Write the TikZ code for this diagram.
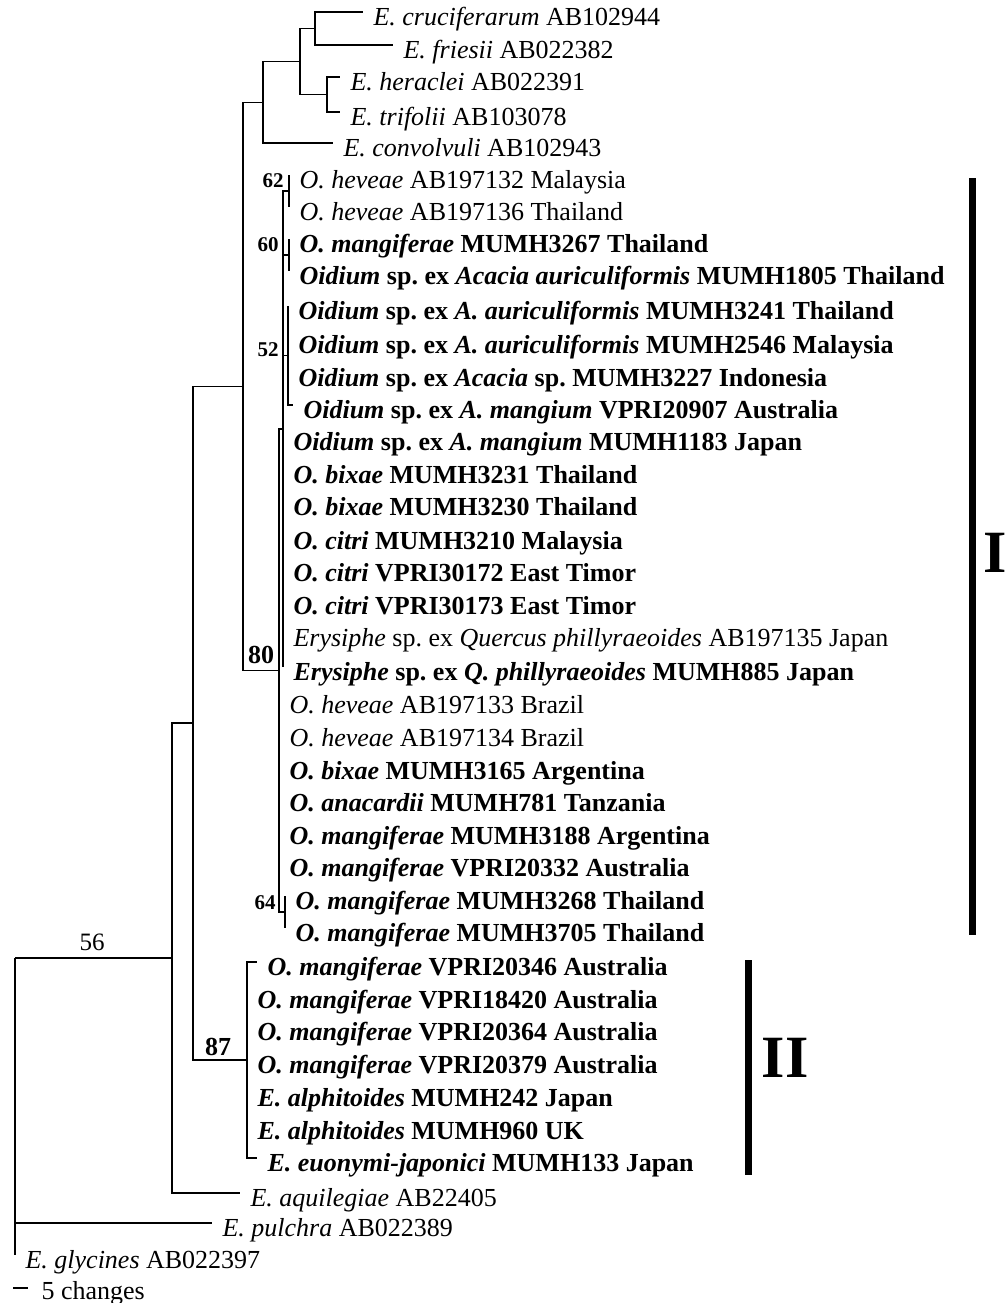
\documentclass[tikz,border=0pt]{standalone}
\usepackage{fontspec}
\setmainfont{Liberation Serif}
\begin{document}
\begin{tikzpicture}[x=1pt,y=-1pt,line width=1.1pt,
  tip/.style={anchor=west,inner xsep=10pt,inner ysep=0pt,text height=27pt,text depth=0pt,font=\fontsize{26}{30}\selectfont},
  tipb/.style={tip,font=\fontsize{26}{30}\selectfont\bfseries},
  boot/.style={inner sep=0pt,font=\fontsize{21}{24}\selectfont\bfseries},
  bigboot/.style={inner sep=0pt,font=\fontsize{26}{28}\selectfont\bfseries},
  clade/.style={inner sep=0pt,font=\fontsize{60}{64}\selectfont\bfseries}]
\useasboundingbox (0,0) rectangle (1008,1303);

\node[tip] (cruc) at (363,12) {\textit{E. cruciferarum} AB102944};
\node[tip] (fri) at (393,45) {\textit{E. friesii} AB022382};
\node[tip] (her) at (340,77) {\textit{E. heraclei} AB022391};
\node[tip] (tri) at (340,112) {\textit{E. trifolii} AB103078};
\node[tip] (conv) at (333,143) {\textit{E. convolvuli} AB102943};

\node[tip] (mal) at (289,175) {\textit{O. heveae} AB197132 Malaysia};
\node[tip] (tha) at (289,207) {\textit{O. heveae} AB197136 Thailand};
\node[tipb] (m3267) at (289,239) {\textit{O. mangiferae} MUMH3267 Thailand};
\node[tipb] (m1805) at (289,271) {\textit{Oidium} sp.\ ex \textit{Acacia auriculiformis} MUMH1805 Thailand};
\node[tipb] (m3241) at (288,306) {\textit{Oidium} sp.\ ex \textit{A. auriculiformis} MUMH3241 Thailand};
\node[tipb] (m2546) at (288,340) {\textit{Oidium} sp.\ ex \textit{A. auriculiformis} MUMH2546 Malaysia};
\node[tipb] (m3227) at (288,373) {\textit{Oidium} sp.\ ex \textit{Acacia} sp.\ MUMH3227 Indonesia};
\node[tipb] (v20907) at (293,405) {\textit{Oidium} sp.\ ex \textit{A. mangium} VPRI20907 Australia};
\node[tipb] (m1183) at (283,437) {\textit{Oidium} sp.\ ex \textit{A. mangium} MUMH1183 Japan};
\node[tipb] (m3231) at (283,470) {\textit{O. bixae} MUMH3231 Thailand};
\node[tipb] (m3230) at (283,502) {\textit{O. bixae} MUMH3230 Thailand};
\node[tipb] (m3210) at (283,536) {\textit{O. citri} MUMH3210 Malaysia};
\node[tipb] (v30172) at (283,568) {\textit{O. citri} VPRI30172 East Timor};
\node[tipb] (v30173) at (283,601) {\textit{O. citri} VPRI30173 East Timor};
\node[tip] (ab135) at (283,633) {\textit{Erysiphe} sp.\ ex \textit{Quercus phillyraeoides} AB197135 Japan};
\node[tipb] (m885) at (283,667) {\textit{Erysiphe} sp.\ ex \textit{Q. phillyraeoides} MUMH885 Japan};
\node[tip] (ab133) at (279,700) {\textit{O. heveae} AB197133 Brazil};
\node[tip] (ab134) at (279,733) {\textit{O. heveae} AB197134 Brazil};
\node[tipb] (m3165) at (279,766) {\textit{O. bixae} MUMH3165 Argentina};
\node[tipb] (m781) at (279,798) {\textit{O. anacardii} MUMH781 Tanzania};
\node[tipb] (m3188) at (279,831) {\textit{O. mangiferae} MUMH3188 Argentina};
\node[tipb] (v20332) at (279,863) {\textit{O. mangiferae} VPRI20332 Australia};
\node[tipb] (m3268) at (285,896) {\textit{O. mangiferae} MUMH3268 Thailand};
\node[tipb] (m3705) at (285,928) {\textit{O. mangiferae} MUMH3705 Thailand};

\node[tipb] (v20346) at (257,962) {\textit{O. mangiferae} VPRI20346 Australia};
\node[tipb] (v18420) at (247,995) {\textit{O. mangiferae} VPRI18420 Australia};
\node[tipb] (v20364) at (247,1027) {\textit{O. mangiferae} VPRI20364 Australia};
\node[tipb] (v20379) at (247,1060) {\textit{O. mangiferae} VPRI20379 Australia};
\node[tipb] (m242) at (247,1093) {\textit{E. alphitoides} MUMH242 Japan};
\node[tipb] (m960) at (247,1126) {\textit{E. alphitoides} MUMH960 UK};
\node[tipb] (m133) at (257,1158) {\textit{E. euonymi-japonici} MUMH133 Japan};

\node[tip] (aqu) at (240,1193) {\textit{E. aquilegiae} AB22405};
\node[tip] (pul) at (212,1223) {\textit{E. pulchra} AB022389};
\node[tip] (gly) at (15,1255) {\textit{E. glycines} AB022397};

\coordinate (nA) at (315,28.5);
\coordinate (nB) at (327,94.5);
\coordinate (nC) at (300,61.5);
\coordinate (nD) at (263,102.5);
\coordinate (n62) at (289,191);
\coordinate (n60) at (289,255);
\coordinate (n52) at (288,355.5);
\coordinate (nH) at (283,429);
\coordinate (n64) at (285,912);
\coordinate (n80) at (279,670.5);
\coordinate (nE) at (243,386.5);
\coordinate (n87) at (247,1060);
\coordinate (nG) at (193,723);
\coordinate (nF) at (172,958);
\coordinate (root) at (15,958);

\draw (nA) |- (cruc.west) (nA) |- (fri.west);
\draw (nB) |- (her.west) (nB) |- (tri.west);
\draw (nC) |- (nA) (nC) |- (nB);
\draw (nD) |- (nC) (nD) |- (conv.west);
\draw (nE) |- (nD) (nE) |- (n80);
\foreach \t in {mal,tha} \draw (n62) |- (\t.west);
\foreach \t in {m3267,m1805} \draw (n60) |- (\t.west);
\foreach \t in {m3241,m2546,m3227,v20907} \draw (n52) |- (\t.west);
\foreach \t in {n62,n60,n52} \draw (nH) |- (\t);
\foreach \t in {m1183,m3231,m3230,m3210,v30172,v30173,ab135,m885} \draw (nH) |- (\t.west);
\draw (n80) |- (nH) (n80) |- (n64);
\foreach \t in {ab133,ab134,m3165,m781,m3188,v20332} \draw (n80) |- (\t.west);
\foreach \t in {m3268,m3705} \draw (n64) |- (\t.west);
\draw (nG) |- (nE) (nG) |- (n87);
\foreach \t in {v20346,v18420,v20364,v20379,m242,m960,m133} \draw (n87) |- (\t.west);
\draw (nF) |- (nG) (nF) |- (aqu.west);
\draw (root) |- (nF) (root) |- (pul.west) (root) |- (gly.west);

\node[boot] (b62) at (273,181) {62};
\node[boot] (b60) at (268,245) {60};
\node[boot] (b52) at (268,350) {52};
\node[boot] (b64) at (265,903) {64};
\node[bigboot] (b80) at (261,655) {80};
\node[bigboot] (b87) at (218,1047) {87};
\node[inner sep=0pt,font=\fontsize{25}{28}\selectfont] (b56) at (92,942) {56};

\coordinate (I1) at (972,178);
\coordinate (I2) at (972,935);
\draw[line width=7pt] (I1) -- (I2);
\node[clade] (cI) at (995,553) {I};
\coordinate (II1) at (748,960);
\coordinate (II2) at (748,1175);
\draw[line width=7pt] (II1) -- (II2);
\node[clade] (cII) at (785,1058) {II};

\coordinate (s1) at (13,1288);
\coordinate (s2) at (28,1288);
\draw (s1) -- (s2);
\node[tip,inner xsep=0pt] (scl) at (41,1286) {5 changes};
\end{tikzpicture}
\end{document}
